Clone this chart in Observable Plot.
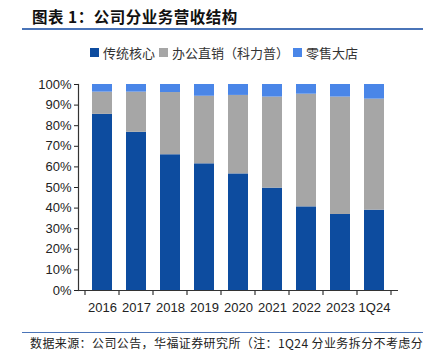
<!DOCTYPE html>
<html><head><meta charset="utf-8">
<script src="https://cdn.jsdelivr.net/npm/d3@7"></script>
<script src="https://cdn.jsdelivr.net/npm/@observablehq/plot@0.6"></script>
<style>
body{margin:0;background:#fff;width:423px;height:352px;overflow:hidden;position:relative;font-family:"Liberation Sans",Arial,sans-serif;}
#title{position:absolute;left:22px;right:0;top:0;height:28px;border-bottom:2px solid #4a74b8;}
#title span{position:absolute;left:10px;top:5px;font-family:"Noto Sans CJK SC";font-weight:700;font-size:15.5px;color:#111;letter-spacing:0.5px;}
#legend{position:absolute;left:90px;top:43px;height:18px;display:flex;font-family:"Noto Sans CJK SC";font-size:13px;color:#333;white-space:nowrap;}
#legend .it{display:flex;align-items:center;margin-right:4px;}
#legend .sw{width:9px;height:9px;margin-right:4px;}
#chart{position:absolute;left:0;top:64px;}
#foot{position:absolute;left:22px;right:0;top:332px;border-top:1.5px solid #4a74b8;}
#foot span{position:absolute;left:8px;top:1px;font-family:"Noto Sans CJK SC";font-size:12px;letter-spacing:0.4px;color:#222;white-space:nowrap;}
</style></head>
<body>
<div id="title"><span>图表 1：公司分业务营收结构</span></div>
<div id="legend"></div>
<div id="chart"></div>
<div id="foot"><span>数据来源：公司公告，华福证券研究所（注：1Q24 分业务拆分不考虑分</span></div>
<script>
const years = ["2016","2017","2018","2019","2020","2021","2022","2023","1Q24"];
const series = ["传统核心","办公直销（科力普）","零售大店"];
const colors = ["#0d4c9f","#a6a6a6","#4a86e8"];
const core   = [85.5, 76.8, 65.9, 61.5, 56.6, 49.7, 40.6, 36.9, 39.0];
const office = [10.8, 19.5, 30.2, 32.8, 38.1, 44.2, 54.7, 57.0, 53.9];
const retail = [3.7, 3.7, 3.9, 5.7, 5.3, 6.1, 4.7, 6.1, 7.1];
const yTicks = [0,10,20,30,40,50,60,70,80,90,100];

const vals = [core, office, retail];
const data = [];
series.forEach((s, i) => years.forEach((y, j) => data.push({year: y, series: s, value: vals[i][j]})));

// legend
const lg = document.getElementById("legend");
series.forEach((s, i) => {
  const d = document.createElement("div"); d.className = "it";
  d.innerHTML = `<div class="sw" style="background:${colors[i]}"></div><span>${s}</span>`;
  lg.appendChild(d);
});

const plot = Plot.plot({
  width: 423, height: 256,
  marginTop: 20, marginBottom: 30, marginLeft: 78, marginRight: 25,
  style: {fontFamily: "Liberation Sans, Arial, sans-serif", fontSize: "13px", color: "#222", background: "transparent"},
  x: {domain: years, padding: 0.4, label: null, tickSize: 0, tickPadding: 12},
  y: {domain: [0, 100], ticks: yTicks, tickFormat: d => d + "%", label: null, tickSize: 4, tickPadding: 3},
  color: {domain: series, range: colors},
  marks: [
    Plot.barY(data, {x: "year", y: "value", fill: "series", order: series}),
    Plot.ruleY([0], {stroke: "#333", strokeWidth: 1.2}),
    Plot.frame({anchor: "left", stroke: "#333", strokeWidth: 1.2})
  ]
});
document.getElementById("chart").appendChild(plot);

// boundary ticks on the x axis, from the band scale
const xs = plot.scale("x"), ys = plot.scale("y");
const step = xs.step, y0 = ys.apply(0);
const svg = d3.select(plot);
const bounds = years.map(y => xs.apply(y) - (step - xs.bandwidth) / 2).concat([xs.apply(years[years.length-1]) + xs.bandwidth + (step - xs.bandwidth)/2]);
svg.append("g").selectAll("line").data(bounds).join("line")
  .attr("x1", d => d).attr("x2", d => d).attr("y1", y0).attr("y2", y0 + 5)
  .attr("stroke", "#333").attr("stroke-width", 1.2);
</script>
</body></html>
